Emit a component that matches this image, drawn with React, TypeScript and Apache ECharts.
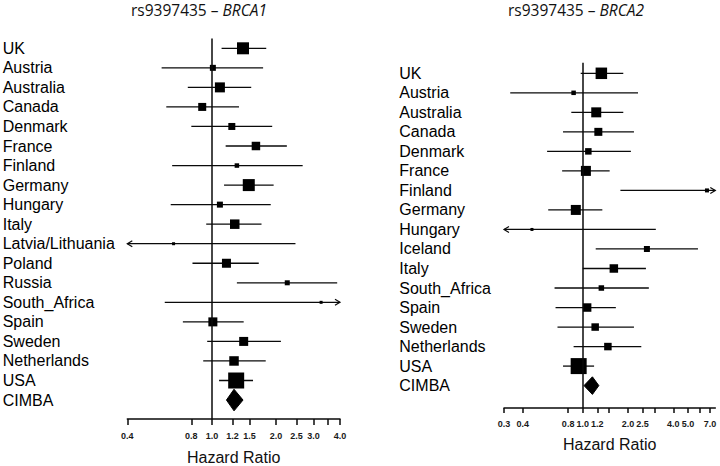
import { useEffect, useRef } from "react";
import * as echarts from "echarts";

// ---------- DATA ----------
const countriesBRCA1 = ["UK", "Austria", "Australia", "Canada", "Denmark", "France", "Finland", "Germany", "Hungary", "Italy", "Latvia/Lithuania", "Poland", "Russia", "South_Africa", "Spain", "Sweden", "Netherlands", "USA", "CIMBA"];
const hrBRCA1 = [1.40, 1.01, 1.09, 0.90, 1.24, 1.61, 1.31, 1.49, 1.09, 1.28, 0.66, 1.17, 2.26, 3.26, 1.01, 1.41, 1.27, 1.30, 1.27];
const lowerBRCA1: (number | null)[] = [1.11, 0.58, 0.77, 0.61, 0.80, 1.16, 0.65, 1.14, 0.64, 0.94, null, 0.81, 1.31, 0.60, 0.73, 0.95, 0.91, 1.08, 1.17];
const upperBRCA1: (number | null)[] = [1.80, 1.74, 1.53, 1.34, 1.92, 2.25, 2.67, 1.95, 1.89, 1.71, 2.47, 1.66, 3.88, null, 1.41, 2.11, 1.79, 1.56, 1.40];
const weightBRCA1 = [12, 6, 10, 8, 7, 8.5, 4.5, 12, 6, 9.5, 3, 9, 5, 3, 9, 9, 9.5, 16, 0];
const tickValuesBRCA1 = [0.4, 0.8, 1.0, 1.25, 1.5, 2.0, 2.5, 3.0, 3.5, 4.0];
const tickLabelValuesBRCA1 = [0.4, 0.8, 1.0, 1.25, 1.5, 2.0, 2.5, 3.0, 4.0];
const tickLabelsBRCA1 = ["0.4", "0.8", "1.0", "1.2", "1.5", "2.0", "2.5", "3.0", "4.0"];

const countriesBRCA2 = ["UK", "Austria", "Australia", "Canada", "Denmark", "France", "Finland", "Germany", "Hungary", "Iceland", "Italy", "South_Africa", "Spain", "Sweden", "Netherlands", "USA", "CIMBA"];
const hrBRCA2 = [1.33, 0.87, 1.23, 1.27, 1.09, 1.05, 6.69, 0.90, 0.46, 2.67, 1.61, 1.33, 1.07, 1.21, 1.47, 0.94, 1.16];
const lowerBRCA2: (number | null)[] = [0.97, 0.33, 0.84, 0.74, 0.58, 0.73, 1.78, 0.59, null, 1.22, 1.00, 0.65, 0.66, 0.68, 0.87, 0.74, 1.02];
const upperBRCA2: (number | null)[] = [1.86, 2.33, 1.86, 2.19, 2.09, 1.51, null, 1.35, 3.06, 5.83, 2.63, 2.75, 1.66, 2.19, 2.45, 1.19, 1.28];
const weightBRCA2 = [11.5, 4.5, 10, 8, 6.5, 10, 4, 10, 3, 6, 8.5, 5.5, 8.5, 7.5, 7.5, 16, 0];
const tickValuesBRCA2 = [0.3, 0.4, 0.8, 1.0, 1.25, 1.5, 2.0, 2.5, 3.0, 4.0, 5.0, 6.0, 7.0];
const tickLabelValuesBRCA2 = [0.3, 0.4, 0.8, 1.0, 1.25, 2.0, 2.5, 4.0, 5.0, 7.0];
const tickLabelsBRCA2 = ["0.3", "0.4", "0.8", "1.0", "1.2", "2.0", "2.5", "4.0", "5.0", "7.0"];

const titleSNP = "rs9397435";
const geneBRCA1 = "BRCA1";
const geneBRCA2 = "BRCA2";
const axisName = "Hazard Ratio";

// ---------- LAYOUT / STYLE ----------
const L10 = Math.log10;
const LABEL_FONT = "'Liberation Sans', Arial, sans-serif";
const TITLE_FONT = "'Open Sans', 'Noto Sans', sans-serif";
const INK = "#0a0a0a";

type PanelCfg = {
  grid: { left: number; top: number; width: number; height: number };
  xMin: number; xMax: number; yMin: number; yMax: number;
  labelMargin: number; tickLen: number; tickLabelMargin: number; nameGap: number;
  diamondHalf: number; titleX: number;
};

const LEFT_CFG: PanelCfg = {
  grid: { left: 127.3, top: 38.5, width: 212.7, height: 380.5 },
  xMin: 0.4, xMax: 4.0, yMin: -0.5015, yMax: 18.97,
  labelMargin: 124.6, tickLen: 6, tickLabelMargin: 12, nameGap: 30.5,
  diamondHalf: 10.8, titleX: 199,
};
const RIGHT_CFG: PanelCfg = {
  grid: { left: 504, top: 62.7, width: 211.3, height: 345.3 },
  xMin: 0.3, xMax: 7.6, yMin: -0.543, yMax: 17.147,
  labelMargin: 104.7, tickLen: 5, tickLabelMargin: 11, nameGap: 28,
  diamondHalf: 8.8, titleX: 576,
};

function buildPanel(
  idx: number, cfg: PanelCfg, names: string[], hr: number[],
  lo: (number | null)[], hi: (number | null)[], w: number[],
  ticks: number[], labelVals: number[], labels: string[]
) {
  const xMin = L10(cfg.xMin);
  const xMax = L10(cfg.xMax);
  const last = names.length - 1; // summary row (diamond)

  const ciData: number[][] = [];
  const sqData: number[][] = [];
  for (let i = 0; i < last; i++) {
    const l = lo[i];
    const h = hi[i];
    ciData.push([
      l == null ? xMin : Math.max(xMin, L10(l)),
      h == null ? xMax : Math.min(xMax, L10(h)),
      i,
      l == null ? 1 : 0,
      h == null ? 1 : 0,
    ]);
    sqData.push([L10(hr[i]), i, w[i]]);
  }
  const diamondData = [[L10(lo[last] as number), L10(hr[last]), L10(hi[last] as number), last]];

  const grid = { ...cfg.grid, containLabel: false, outerBoundsMode: "none" };
  const xAxis = {
    type: "value",
    gridIndex: idx,
    min: xMin,
    max: xMax,
    position: "bottom",
    splitLine: { show: false },
    axisLine: { show: true, onZero: false, lineStyle: { color: INK, width: 1.5 } },
    axisTick: {
      show: true,
      customValues: ticks.map((t) => L10(t)),
      length: cfg.tickLen,
      inside: false,
      lineStyle: { color: INK, width: 1.5 },
    },
    axisLabel: {
      show: true,
      customValues: labelVals.map((t) => L10(t)),
      formatter: (v: number) => {
        let best = 0;
        let bd = Infinity;
        labelVals.forEach((t, k) => {
          const d = Math.abs(L10(t) - v);
          if (d < bd) { bd = d; best = k; }
        });
        return labels[best];
      },
      fontSize: 9,
      fontWeight: "bold",
      fontFamily: LABEL_FONT,
      color: "#1a1a1a",
      margin: cfg.tickLabelMargin,
      hideOverlap: false,
    },
    name: axisName,
    nameLocation: "middle",
    nameGap: cfg.nameGap,
    nameTextStyle: { fontSize: 16, fontFamily: LABEL_FONT, color: "#111" },
  };
  const yAxis = {
    type: "value",
    gridIndex: idx,
    inverse: true,
    min: cfg.yMin,
    max: cfg.yMax,
    splitLine: { show: false },
    axisLine: { show: false },
    axisTick: { show: false },
    axisLabel: {
      show: true,
      customValues: names.map((_, k) => k),
      formatter: (v: number) => names[Math.round(v)] ?? "",
      align: "left",
      margin: cfg.labelMargin,
      fontSize: 16,
      fontFamily: LABEL_FONT,
      color: "#000",
      hideOverlap: false,
    },
  };

  const series = [
    {
      type: "custom",
      name: `ci${idx}`,
      xAxisIndex: idx,
      yAxisIndex: idx,
      data: ciData,
      encode: { x: [0, 1], y: 2 },
      silent: true,
      renderItem: (_p: any, api: any) => {
        const i = api.value(2);
        const a = api.coord([api.value(0), i]);
        const b = api.coord([api.value(1), i]);
        const children: any[] = [
          { type: "line", shape: { x1: a[0], y1: a[1], x2: b[0], y2: b[1] }, style: { stroke: INK, lineWidth: 1.3 } },
        ];
        if (api.value(3)) {
          children.push({
            type: "polyline",
            shape: { points: [[a[0] + 5, a[1] - 3], [a[0], a[1]], [a[0] + 5, a[1] + 3]] },
            style: { stroke: INK, fill: "none", lineWidth: 1.2 },
          });
        }
        if (api.value(4)) {
          children.push({
            type: "polyline",
            shape: { points: [[b[0] - 5, b[1] - 3], [b[0], b[1]], [b[0] - 5, b[1] + 3]] },
            style: { stroke: INK, fill: "none", lineWidth: 1.2 },
          });
        }
        return { type: "group", children };
      },
    },
    {
      type: "scatter",
      name: `est${idx}`,
      xAxisIndex: idx,
      yAxisIndex: idx,
      data: sqData,
      symbol: "rect",
      symbolSize: (val: number[]) => val[2],
      itemStyle: { color: "#000", opacity: 1 },
      silent: true,
      markLine: {
        silent: true,
        symbol: ["none", "none"],
        label: { show: false },
        lineStyle: { color: INK, width: 1.5, type: "solid" },
        data: [{ xAxis: 0 }],
      },
    },
    {
      type: "custom",
      name: `sum${idx}`,
      xAxisIndex: idx,
      yAxisIndex: idx,
      data: diamondData,
      encode: { x: [0, 1, 2], y: 3 },
      silent: true,
      renderItem: (_p: any, api: any) => {
        const i = api.value(3);
        const pl = api.coord([api.value(0), i]);
        const pe = api.coord([api.value(1), i]);
        const ph = api.coord([api.value(2), i]);
        const hh = cfg.diamondHalf;
        return {
          type: "polygon",
          shape: { points: [[pl[0], pl[1]], [pe[0], pe[1] - hh], [ph[0], ph[1]], [pe[0], pe[1] + hh]] },
          style: { fill: "#000", stroke: "#000", lineWidth: 1 },
        };
      },
    },
  ];

  const title = {
    type: "text",
    x: cfg.titleX,
    y: 9.5,
    style: {
      text: `${titleSNP} – {i|${idx === 0 ? geneBRCA1 : geneBRCA2}}`,
      fontSize: 15.5,
      fontFamily: TITLE_FONT,
      fill: "#111",
      align: "center",
      verticalAlign: "middle",
      rich: {
        i: { fontStyle: "italic", fontSize: 15.5, fontFamily: TITLE_FONT, color: "#111" },
      },
    },
  };

  return { grid, xAxis, yAxis, series, title };
}

export default function App() {
  const ref = useRef<HTMLDivElement>(null);

  useEffect(() => {
    if (!ref.current) return;
    const chart = echarts.init(ref.current, undefined, { renderer: "svg" });
    const p1 = buildPanel(0, LEFT_CFG, countriesBRCA1, hrBRCA1, lowerBRCA1, upperBRCA1, weightBRCA1, tickValuesBRCA1, tickLabelValuesBRCA1, tickLabelsBRCA1);
    const p2 = buildPanel(1, RIGHT_CFG, countriesBRCA2, hrBRCA2, lowerBRCA2, upperBRCA2, weightBRCA2, tickValuesBRCA2, tickLabelValuesBRCA2, tickLabelsBRCA2);
    chart.setOption({
      animation: false,
      backgroundColor: "#ffffff",
      grid: [p1.grid, p2.grid],
      xAxis: [p1.xAxis, p2.xAxis],
      yAxis: [p1.yAxis, p2.yAxis],
      series: [...p1.series, ...p2.series],
      graphic: [p1.title, p2.title],
    } as any);
    return () => chart.dispose();
  }, []);

  return (
    <div
      ref={ref}
      style={{ position: "fixed", left: 0, top: 0, width: 720, height: 466, background: "#fff" }}
    />
  );
}
